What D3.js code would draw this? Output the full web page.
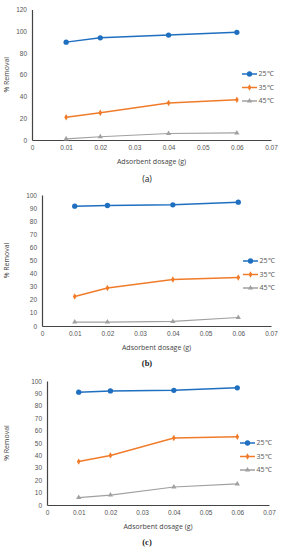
<!DOCTYPE html>
<html>
<head>
<meta charset="utf-8">
<script src="https://cdn.jsdelivr.net/npm/d3@7"></script>
<style>
  body { margin: 0; background: #fff; }
  svg { display: block; }
</style>
</head>
<body>
<div id="chart"></div>
<script>
// Data
const dosage = [0.01, 0.02, 0.04, 0.06];
const seriesNames = ['25℃', '35℃', '45℃'];
const xTicks = [0, 0.01, 0.02, 0.03, 0.04, 0.05, 0.06, 0.07];

const removalA25 = [90, 94, 96.5, 99];
const removalA35 = [21, 25, 34, 37];
const removalA45 = [1, 3, 6, 6.5];

const removalB25 = [91.5, 92, 92.5, 94.5];
const removalB35 = [22.5, 29, 35.5, 37];
const removalB45 = [3, 3, 3.5, 6.5];

const removalC25 = [91, 92, 92.5, 94.5];
const removalC35 = [35, 40, 54, 55];
const removalC45 = [6, 8, 14.5, 17];

const yTicksA = [0, 20, 40, 60, 80, 100, 120];
const yTicksBC = [0, 10, 20, 30, 40, 50, 60, 70, 80, 90, 100];

const colors = ['#1f6fc1', '#f07c2a', '#a0a0a0'];
const markers = [d3.symbolCircle, d3.symbolDiamond, d3.symbolTriangle];
const markerSize = [22, 12, 12];

// Panel layouts (pixel boxes)
const panels = [
  { label: '(a)', series: [removalA25, removalA35, removalA45], yTicks: yTicksA, yMax: 120,
    left: 32, right: 271, top: 9.5, bottom: 140, legendX: 242, legendY: 74, captionY: 182 },
  { label: '(b)', series: [removalB25, removalB35, removalB45], yTicks: yTicksBC, yMax: 100,
    left: 42, right: 271, top: 195, bottom: 326, legendX: 243, legendY: 261, captionY: 366 },
  { label: '(c)', series: [removalC25, removalC35, removalC45], yTicks: yTicksBC, yMax: 100,
    left: 47, right: 269, top: 381, bottom: 505, legendX: 240, legendY: 443, captionY: 545 }
];

const svg = d3.select('#chart').append('svg')
  .attr('width', 284).attr('height', 550)
  .style('font-family', '"Open Sans", sans-serif');

panels.forEach(p => {
  const x = d3.scaleLinear().domain([0, 0.07]).range([p.left, p.right]);
  const y = d3.scaleLinear().domain([0, p.yMax]).range([p.bottom, p.top]);
  const g = svg.append('g');

  // Axes
  const xAxis = d3.axisBottom(x).tickValues(xTicks).tickSize(0).tickPadding(5)
    .tickFormat(d => d === 0 ? '0' : d3.format('.2f')(d));
  const yAxis = d3.axisLeft(y).tickValues(p.yTicks).tickSize(0).tickPadding(5)
    .tickFormat(d3.format('d'));

  g.append('g').attr('transform', `translate(0,${p.bottom})`).call(xAxis)
    .call(a => a.select('.domain').attr('stroke', '#444').attr('stroke-width', 1.2))
    .selectAll('text').attr('fill', '#555').attr('font-size', 6.5);
  g.append('g').attr('transform', `translate(${p.left},0)`).call(yAxis)
    .call(a => a.select('.domain').attr('stroke', '#444').attr('stroke-width', 1.2))
    .selectAll('text').attr('fill', '#555').attr('font-size', 6.5);

  // Axis titles
  g.append('text')
    .attr('x', (p.left + p.right) / 2).attr('y', p.bottom + 24)
    .attr('text-anchor', 'middle').attr('font-size', 7).attr('fill', '#444')
    .text('Adsorbent dosage (g)');
  g.append('text')
    .attr('transform', `translate(9,${(p.top + p.bottom) / 2}) rotate(-90)`)
    .attr('text-anchor', 'middle').attr('font-size', 7).attr('fill', '#444')
    .text('% Removal');

  // Series
  const line = d3.line().x((d, i) => x(dosage[i])).y(d => y(d));
  p.series.forEach((vals, s) => {
    g.append('path').datum(vals)
      .attr('d', line).attr('fill', 'none')
      .attr('stroke', colors[s]).attr('stroke-width', s === 2 ? 1.2 : 1.5);
    g.selectAll(null).data(vals).enter().append('path')
      .attr('d', d3.symbol().type(markers[s]).size(markerSize[s]))
      .attr('transform', (d, i) => `translate(${x(dosage[i])},${y(d)})`)
      .attr('fill', colors[s]);
  });

  // Legend
  seriesNames.forEach((name, s) => {
    const ly = p.legendY + s * 13.5;
    g.append('line').attr('x1', p.legendX).attr('x2', p.legendX + 15)
      .attr('y1', ly).attr('y2', ly)
      .attr('stroke', colors[s]).attr('stroke-width', 1.5);
    g.append('path')
      .attr('d', d3.symbol().type(markers[s]).size(markerSize[s]))
      .attr('transform', `translate(${p.legendX + 7.5},${ly})`)
      .attr('fill', colors[s]);
    g.append('text').attr('x', p.legendX + 16.5).attr('y', ly + 2.4)
      .attr('font-size', 7).attr('fill', '#555').text(name);
  });

  // Caption
  svg.append('text')
    .attr('x', 147).attr('y', p.captionY)
    .attr('text-anchor', 'middle').attr('font-size', 8.5)
    .attr('font-family', p.label === '(a)' ? '"Open Sans", sans-serif' : '"Liberation Serif", serif')
    .attr('font-weight', p.label === '(a)' ? 'normal' : 'bold')
    .attr('fill', '#222').text(p.label);
});
</script>
</body>
</html>
